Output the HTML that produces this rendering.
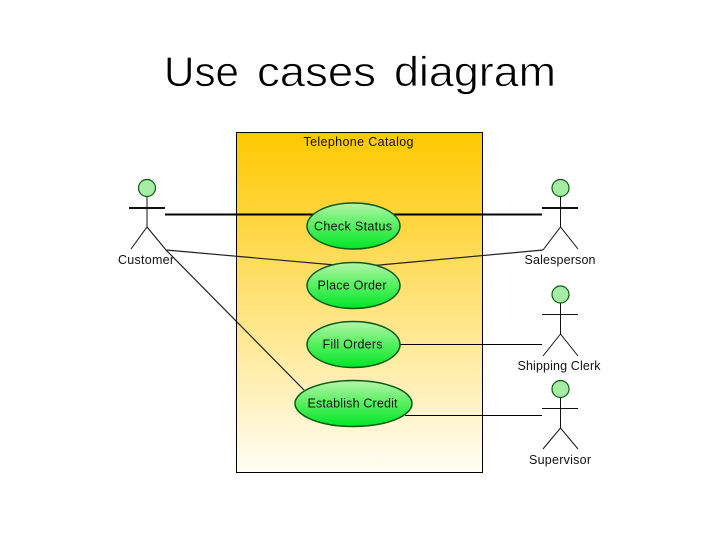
<!DOCTYPE html>
<html>
<head>
<meta charset="utf-8">
<style>
html,body{margin:0;padding:0;background:#fff;width:720px;height:540px;overflow:hidden}
svg{display:block}
text{font-family:"Liberation Sans",sans-serif;fill:#111}
text.t{fill:#000;stroke:#fff;stroke-width:.7px;paint-order:fill stroke}
</style>
</head>
<body>
<svg width="720" height="540" viewBox="0 0 720 540" xmlns="http://www.w3.org/2000/svg">
<defs>
<linearGradient id="bg" x1="0" y1="0" x2="0" y2="1">
<stop offset="0" stop-color="#ffc800"/>
<stop offset="1" stop-color="#fffdf5"/>
</linearGradient>
<linearGradient id="el" x1="0" y1="0" x2="0" y2="1">
<stop offset="0" stop-color="#b4f5aa"/>
<stop offset="0.5" stop-color="#55f05f"/>
<stop offset="1" stop-color="#00e628"/>
</linearGradient>
</defs>
<text class="t" x="164" y="86" font-size="42" textLength="75" lengthAdjust="spacingAndGlyphs">Use</text>
<text class="t" x="257" y="86" font-size="42" textLength="119" lengthAdjust="spacingAndGlyphs">cases</text>
<text class="t" x="394" y="86" font-size="42" textLength="162" lengthAdjust="spacingAndGlyphs">diagram</text>
<rect x="236.500" y="132.500" width="246" height="340" fill="url(#bg)" stroke="#000" stroke-width="1"/>
<text x="358.500" y="146" text-anchor="middle" font-size="12.500" textLength="110">Telephone Catalog</text>

<line x1="165" y1="214.500" x2="542" y2="214.500" stroke="#000" stroke-width="2"/>
<path d="M166 250 L335 265 Q353 266 380 265 L543 250" fill="none" stroke="#222" stroke-width="1.200"/>
<line x1="166" y1="250" x2="304" y2="390" stroke="#222" stroke-width="1.200"/>
<line x1="400" y1="344.500" x2="542" y2="344.500" stroke="#000" stroke-width="1"/>
<line x1="405" y1="415.500" x2="542" y2="415.500" stroke="#000" stroke-width="1"/>

<g fill="url(#el)" stroke="#0b5a12" stroke-width="1.500">
<ellipse cx="353.500" cy="226" rx="46.500" ry="23"/>
<ellipse cx="353.500" cy="285.500" rx="46.500" ry="23"/>
<ellipse cx="353.500" cy="344.500" rx="46.500" ry="23"/>
<ellipse cx="353.500" cy="403.500" rx="58.500" ry="23"/>
</g>
<g font-size="12.500" text-anchor="middle">
<text x="353" y="230.500" textLength="78">Check Status</text>
<text x="352" y="289.500" textLength="69">Place Order</text>
<text x="352.500" y="348.500" textLength="60">Fill Orders</text>
<text x="352.500" y="407.500" textLength="90">Establish Credit</text>
</g>

<g fill="none" stroke="#111">
<circle cx="147" cy="188" r="8.500" fill="#a5eda5" stroke="#0b5a12" stroke-width="1.200"/>
<line x1="147" y1="197" x2="147" y2="227" stroke-width="1"/>
<line x1="129" y1="208" x2="165" y2="208" stroke-width="2"/>
<path d="M131 249 L147 227 L166 250" stroke-width="1"/>
</g>
<g fill="none" stroke="#111">
<circle cx="560.500" cy="188" r="8.500" fill="#a5eda5" stroke="#0b5a12" stroke-width="1.200"/>
<line x1="560.500" y1="197" x2="560.500" y2="227" stroke-width="1"/>
<line x1="542" y1="208" x2="578" y2="208" stroke-width="2"/>
<path d="M543 250 L560.500 227 L578 249" stroke-width="1"/>
</g>
<g fill="none" stroke="#111">
<circle cx="560.500" cy="294.500" r="8.500" fill="#a5eda5" stroke="#0b5a12" stroke-width="1.200"/>
<line x1="560.500" y1="303" x2="560.500" y2="334" stroke-width="1"/>
<line x1="542" y1="314.500" x2="578" y2="314.500" stroke-width="1"/>
<path d="M543 356 L560.500 334 L578 356" stroke-width="1"/>
</g>
<g fill="none" stroke="#111">
<circle cx="560.500" cy="389" r="8.500" fill="#a5eda5" stroke="#0b5a12" stroke-width="1.200"/>
<line x1="560.500" y1="398" x2="560.500" y2="428" stroke-width="1"/>
<line x1="542" y1="408.500" x2="578" y2="408.500" stroke-width="1"/>
<path d="M543 449 L560.500 428 L578 449" stroke-width="1"/>
</g>

<g font-size="12.500" text-anchor="middle">
<text x="146" y="264" textLength="56">Customer</text>
<text x="560" y="264" textLength="71">Salesperson</text>
<text x="559" y="370" textLength="83">Shipping Clerk</text>
<text x="560" y="464" textLength="62">Supervisor</text>
</g>
</svg>
</body>
</html>
